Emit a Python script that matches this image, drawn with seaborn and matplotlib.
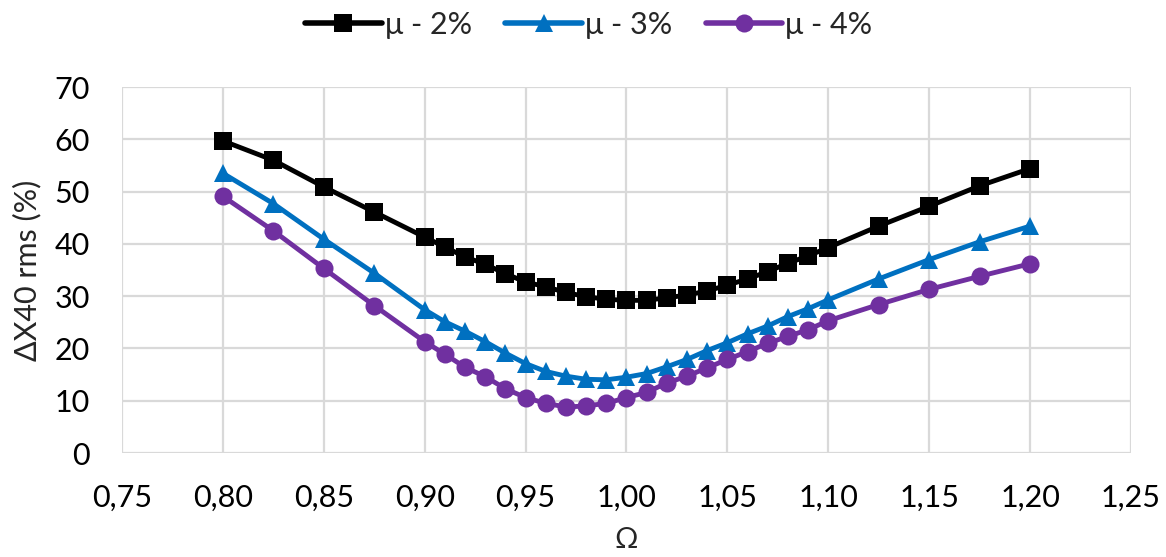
import matplotlib
matplotlib.use("Agg")
import matplotlib.pyplot as plt
from matplotlib.ticker import FuncFormatter, MultipleLocator
import seaborn as sns
import pandas as pd

# Frequency ratio values
omega = [0.80, 0.825, 0.85, 0.875, 0.90, 0.91, 0.92, 0.93, 0.94, 0.95, 0.96, 0.97,
         0.98, 0.99, 1.00, 1.01, 1.02, 1.03, 1.04, 1.05, 1.06, 1.07, 1.08, 1.09,
         1.10, 1.125, 1.15, 1.175, 1.20]

# ΔX40 rms (%) per mass ratio
mu_2 = [59.7, 56.0, 50.9, 46.1, 41.3, 39.4, 37.5, 36.1, 34.3, 32.7, 31.8, 30.7,
        29.9, 29.4, 29.2, 29.2, 29.7, 30.2, 31.0, 32.1, 33.3, 34.7, 36.3, 37.7,
        39.3, 43.4, 47.2, 51.1, 54.4]
mu_3 = [53.5, 47.7, 40.9, 34.4, 27.4, 25.1, 23.3, 21.3, 19.1, 17.1, 15.6, 14.7,
        14.1, 14.0, 14.5, 15.2, 16.5, 17.9, 19.6, 21.1, 22.8, 24.3, 26.1, 27.6,
        29.3, 33.3, 37.0, 40.4, 43.4]
mu_4 = [49.1, 42.5, 35.3, 28.2, 21.3, 18.9, 16.4, 14.6, 12.3, 10.6, 9.5, 8.8,
        9.0, 9.5, 10.6, 11.6, 13.4, 14.7, 16.3, 17.9, 19.4, 21.0, 22.3, 23.6,
        25.3, 28.4, 31.3, 33.8, 36.2]

series_names = ["μ - 2%", "μ - 3%", "μ - 4%"]
series_values = [mu_2, mu_3, mu_4]

df = pd.concat(
    [pd.DataFrame({"omega": omega, "value": vals, "serie": name})
     for name, vals in zip(series_names, series_values)],
    ignore_index=True,
)

sns.set_theme(style="white")
plt.rcParams["font.family"] = ["Lato", "DejaVu Sans"]

fig = plt.figure(figsize=(11.66, 5.57), dpi=100)
ax = fig.add_axes([0.1046, 0.1867, 0.8654, 0.6571])

palette = {"μ - 2%": "#000000", "μ - 3%": "#0070C0", "μ - 4%": "#7030A0"}
markers = {"μ - 2%": "s", "μ - 3%": "^", "μ - 4%": "o"}

sns.lineplot(data=df, x="omega", y="value", hue="serie", style="serie",
             palette=palette, markers=markers, dashes=False,
             linewidth=3.5, markersize=13, markeredgewidth=0,
             ax=ax, legend=True, clip_on=False, zorder=3)

ax.set_xlim(0.75, 1.25)
ax.set_ylim(0, 70)
ax.xaxis.set_major_locator(MultipleLocator(0.05))
ax.yaxis.set_major_locator(MultipleLocator(10))
ax.xaxis.set_major_formatter(FuncFormatter(lambda v, p: f"{v:.2f}".replace(".", ",")))
ax.yaxis.set_major_formatter(FuncFormatter(lambda v, p: f"{v:.0f}"))

ax.grid(True, color="#d9d9d9", linewidth=1.6, zorder=0)
ax.set_axisbelow(True)
for s in ax.spines.values():
    s.set_visible(False)
ax.tick_params(axis="x", length=0, labelsize=22, colors="black", pad=22)
ax.tick_params(axis="y", length=0, labelsize=22, colors="black", pad=23)

ax.set_xlabel("Ω", fontsize=21, va="center")
ax.set_ylabel("ΔX40 rms (%)", fontsize=22)
ax.xaxis.set_label_coords(0.5, -0.238)
ax.yaxis.set_label_coords(-0.080, 0.5)

handles, labels = ax.get_legend_handles_labels()
for h in handles:
    h.set_linewidth(4)
    h.set_markersize(13)
fig.legend(handles, labels, loc="upper center", bbox_to_anchor=(0.505, 1.03),
           ncol=3, frameon=False, fontsize=22, handlelength=2.5,
           handletextpad=0.1, columnspacing=1.1)
ax.get_legend().remove()

fig.savefig("out.png", dpi=100)
